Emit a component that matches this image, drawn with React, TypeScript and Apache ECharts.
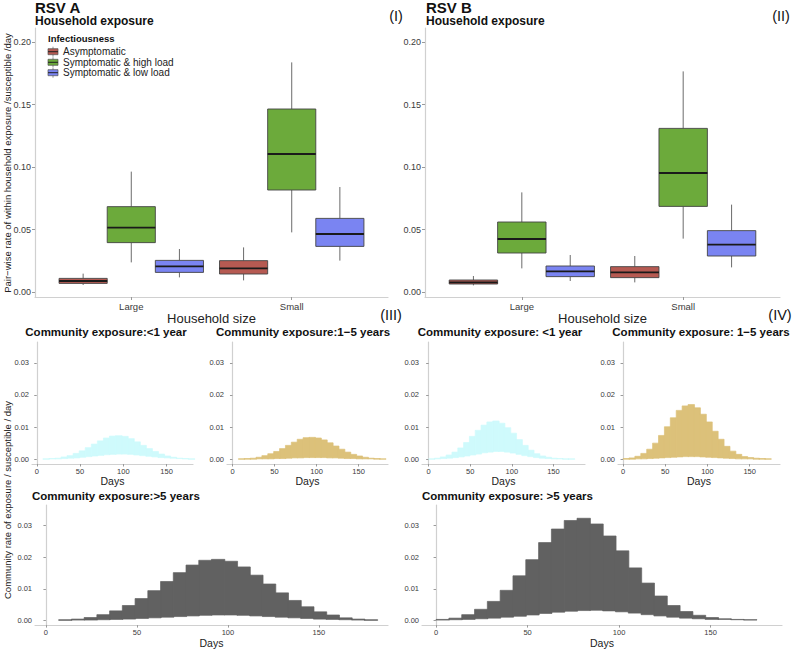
import React, { useEffect, useRef } from "react";
import * as echarts from "echarts";

const FONT = "'Liberation Sans', Arial, Helvetica, sans-serif";

// ---------- Household exposure (box plots) ----------
const boxCategories = ["Large", "Small"];
const infectiousness = ["Asymptomatic", "Symptomatic & high load", "Symptomatic & low load"];
const boxColors = ["#B65A52", "#6CAA3B", "#7A84F2"];
const boxTicks = [0, 0.05, 0.1, 0.15, 0.2];

// each row: [min, q1, median, q3, max] for Large, Small
const rsvA_asym = [[0.0056, 0.0069, 0.0088, 0.0109, 0.0147], [0.0093, 0.0144, 0.0189, 0.0251, 0.0357]];
const rsvA_high = [[0.0237, 0.0395, 0.0515, 0.0683, 0.0963], [0.0477, 0.0816, 0.1104, 0.1464, 0.1837]];
const rsvA_low = [[0.0117, 0.0157, 0.0205, 0.0253, 0.0344], [0.0251, 0.0365, 0.0464, 0.0589, 0.084]];
const rsvB_asym = [[0.0053, 0.0064, 0.0077, 0.0096, 0.0128], [0.0077, 0.0115, 0.0157, 0.0203, 0.0288]];
const rsvB_high = [[0.0189, 0.0312, 0.0424, 0.056, 0.0797], [0.0427, 0.0685, 0.0952, 0.1309, 0.1765]];
const rsvB_low = [[0.0088, 0.0123, 0.0165, 0.0208, 0.0296], [0.0197, 0.0288, 0.0379, 0.0491, 0.0699]];

// ---------- Community exposure (weekly ribbons) ----------
const dayTicks = [0, 50, 100, 150];
const commTicks = [0, 0.01, 0.02, 0.03];
const weekStartsA = [7, 14, 21, 28, 35, 42, 49, 56, 63, 70, 77, 84, 91, 98, 105, 112, 119, 126, 133, 140, 147, 154, 161, 168, 175];
const weekStartsB = [0, 7, 14, 21, 28, 35, 42, 49, 56, 63, 70, 77, 84, 91, 98, 105, 112, 119, 126, 133, 140, 147, 154, 161, 168];

const A_u1_upper = [0.0001, 0.0002, 0.0003, 0.0007, 0.0011, 0.0018, 0.0026, 0.0036, 0.0047, 0.0057, 0.0066, 0.0072, 0.0073, 0.0071, 0.0064, 0.0054, 0.0043, 0.0033, 0.0024, 0.0016, 0.001, 0.0006, 0.0003, 0.0002, 0.0001];
const A_u1_lower = [0, 0.0001, 0.0001, 0.0002, 0.0003, 0.0004, 0.0006, 0.0008, 0.001, 0.0012, 0.0014, 0.0015, 0.0016, 0.0016, 0.0015, 0.0013, 0.0011, 0.0009, 0.0007, 0.0005, 0.0004, 0.0003, 0.0002, 0.0001, 0];
const A_15_upper = [0.0001, 0.0002, 0.0003, 0.0006, 0.0011, 0.0017, 0.0024, 0.0033, 0.0043, 0.0053, 0.0062, 0.0067, 0.0068, 0.0066, 0.006, 0.0051, 0.0041, 0.0031, 0.0022, 0.0015, 0.001, 0.0006, 0.0003, 0.0002, 0.0001];
const A_15_lower = [0, 0, 0, 0.0001, 0.0001, 0.0001, 0.0002, 0.0002, 0.0003, 0.0004, 0.0004, 0.0005, 0.0005, 0.0005, 0.0005, 0.0004, 0.0004, 0.0003, 0.0002, 0.0002, 0.0001, 0.0001, 0.0001, 0, 0];
const A_5p_upper = [0.0002, 0.0004, 0.0009, 0.0018, 0.003, 0.0047, 0.0069, 0.0094, 0.0123, 0.0151, 0.0175, 0.019, 0.0193, 0.0187, 0.0169, 0.0143, 0.0115, 0.0087, 0.0063, 0.0043, 0.0027, 0.0017, 0.0008, 0.0004, 0.0002];
const A_5p_lower = [0, 0.0001, 0.0001, 0.0002, 0.0003, 0.0004, 0.0006, 0.0008, 0.001, 0.0012, 0.0014, 0.0016, 0.0017, 0.0017, 0.0016, 0.0014, 0.0012, 0.001, 0.0008, 0.0006, 0.0004, 0.0003, 0.0002, 0.0001, 0];

const B_u1_upper = [0.0001, 0.0003, 0.0007, 0.0013, 0.0022, 0.0035, 0.0052, 0.0071, 0.009, 0.0106, 0.0116, 0.0119, 0.0112, 0.0098, 0.0081, 0.0061, 0.0043, 0.0028, 0.0017, 0.001, 0.0006, 0.0003, 0.0002, 0.0001, 0.0001];
const B_u1_lower = [0, 0.0001, 0.0002, 0.0003, 0.0005, 0.0007, 0.001, 0.0013, 0.0016, 0.002, 0.0022, 0.0024, 0.0024, 0.0022, 0.0019, 0.0015, 0.0011, 0.0008, 0.0005, 0.0003, 0.0002, 0.0001, 0.0001, 0, 0];
const B_15_upper = [0.0002, 0.0004, 0.0009, 0.0018, 0.0031, 0.005, 0.0074, 0.0101, 0.0129, 0.0152, 0.0166, 0.017, 0.016, 0.014, 0.0116, 0.0087, 0.0062, 0.004, 0.0025, 0.0015, 0.0008, 0.0005, 0.0003, 0.0002, 0.0001];
const B_15_lower = [0, 0, 0.0001, 0.0001, 0.0002, 0.0003, 0.0004, 0.0005, 0.0006, 0.0007, 0.0008, 0.0008, 0.0008, 0.0007, 0.0006, 0.0005, 0.0004, 0.0003, 0.0002, 0.0001, 0.0001, 0.0001, 0, 0, 0];
const B_5p_upper = [0.0003, 0.0007, 0.0018, 0.0035, 0.006, 0.0095, 0.0141, 0.0192, 0.0246, 0.0289, 0.0316, 0.0323, 0.0305, 0.0267, 0.022, 0.0166, 0.0118, 0.0077, 0.0047, 0.0028, 0.0016, 0.0009, 0.0005, 0.0003, 0.0002];
const B_5p_lower = [0.0001, 0.0002, 0.0003, 0.0005, 0.0007, 0.001, 0.0013, 0.0017, 0.0022, 0.0026, 0.0029, 0.0031, 0.0032, 0.003, 0.0027, 0.0023, 0.0018, 0.0014, 0.001, 0.0007, 0.0005, 0.0003, 0.0003, 0.0002, 0.0001];

const cyan = "#CFFAFC";
const gold = "#DCC17A";
const dark = "#616161";
const axisGray = "#D0D0D0";
const textGray = "#3a3a3a";

function boxRows(rows: number[][]) {
  return rows.map((r, i) => [i + 1, ...r]);
}
function ribbonRows(starts: number[], lower: number[], upper: number[]) {
  return starts.map((s, i) => [s, s + 7, lower[i], upper[i]]);
}

function boxRender(offset: number, color: string) {
  return (params: any, api: any) => {
    const c = api.value(0) + offset;
    const mn = api.value(1), q1 = api.value(2), md = api.value(3), q3 = api.value(4), mx = api.value(5);
    const hw = 0.15;
    const tl = api.coord([c - hw, q3]);
    const br = api.coord([c + hw, q1]);
    const pMax = api.coord([c, mx]);
    const pMin = api.coord([c, mn]);
    const pMd = api.coord([c, md]);
    return {
      type: "group",
      children: [
        { type: "line", shape: { x1: pMax[0], y1: pMax[1], x2: pMax[0], y2: tl[1] }, style: { stroke: "#6b6b6b", lineWidth: 1 } },
        { type: "line", shape: { x1: pMin[0], y1: br[1], x2: pMin[0], y2: pMin[1] }, style: { stroke: "#6b6b6b", lineWidth: 1 } },
        { type: "rect", shape: { x: tl[0], y: tl[1], width: br[0] - tl[0], height: br[1] - tl[1] }, style: { fill: color, stroke: "#444", lineWidth: 0.9 } },
        { type: "line", shape: { x1: tl[0], y1: pMd[1], x2: br[0], y2: pMd[1] }, style: { stroke: "#1a1a1a", lineWidth: 1.8 } },
      ],
    };
  };
}

function ribbonRender(color: string) {
  return (params: any, api: any) => {
    const p1 = api.coord([api.value(0), api.value(3)]);
    const p2 = api.coord([api.value(1), api.value(2)]);
    return {
      type: "rect",
      shape: { x: p1[0], y: p1[1], width: p2[0] - p1[0] + 0.6, height: Math.max(0.3, p2[1] - p1[1]) },
      style: { fill: color, stroke: color, lineWidth: 0.7 },
    };
  };
}

const gridBase = { show: false };

function boxYAxis(gridIndex: number) {
  return {
    type: "value", gridIndex, min: -0.004, max: 0.2112,
    splitLine: { show: false },
    axisLine: { show: true, lineStyle: { color: axisGray, width: 1.2 } },
    axisTick: { show: true, customValues: boxTicks, length: 3, lineStyle: { color: "#9a9a9a" } },
    axisLabel: { customValues: boxTicks, formatter: (v: number) => v.toFixed(2), fontSize: 9, color: textGray, fontFamily: FONT, margin: 4 },
  };
}
function boxXAxis(gridIndex: number) {
  return {
    type: "value", gridIndex, min: 0.4, max: 2.6,
    splitLine: { show: false },
    axisLine: { show: true, onZero: false, lineStyle: { color: axisGray, width: 1.2 } },
    axisTick: { show: true, customValues: [1, 2], length: 3, lineStyle: { color: "#9a9a9a" } },
    axisLabel: { customValues: [1, 2], formatter: (v: number) => boxCategories[Math.round(v) - 1], fontSize: 9.5, color: textGray, fontFamily: FONT, margin: 4 },
    name: "Household size", nameLocation: "middle", nameGap: 10,
    nameTextStyle: { fontSize: 13, color: "#222", fontFamily: FONT },
  };
}
function commYAxis(gridIndex: number) {
  return {
    type: "value", gridIndex, min: -0.0015, max: 0.0365,
    splitLine: { show: false },
    axisLine: { show: true, lineStyle: { color: axisGray, width: 1.2 } },
    axisTick: { show: true, customValues: commTicks, length: 2.5, lineStyle: { color: "#9a9a9a" } },
    axisLabel: { customValues: commTicks, formatter: (v: number) => v.toFixed(2), fontSize: 7.5, color: textGray, fontFamily: FONT, margin: 3 },
  };
}
function commXAxis(gridIndex: number, min: number, max: number, gap: number) {
  return {
    type: "value", gridIndex, min, max,
    splitLine: { show: false },
    axisLine: { show: true, onZero: false, lineStyle: { color: axisGray, width: 1.2 } },
    axisTick: { show: true, customValues: dayTicks, length: 2.5, lineStyle: { color: "#9a9a9a" } },
    axisLabel: { customValues: dayTicks, fontSize: 7.5, color: textGray, fontFamily: FONT, margin: 3 },
    name: "Days", nameLocation: "middle", nameGap: gap,
    nameTextStyle: { fontSize: 10.5, color: "#222", fontFamily: FONT },
  };
}

function txt(text: string, x: number, y: number, size: number, opts: any = {}) {
  return {
    type: "text", x, y, rotation: opts.rotation || 0,
    style: {
      text, fontSize: size, fontFamily: FONT, fontWeight: opts.bold ? "bold" : "normal",
      fill: opts.color || "#111", textAlign: opts.align || "left", textVerticalAlign: "middle",
    },
  };
}

export default function App() {
  const ref = useRef<HTMLDivElement>(null);
  useEffect(() => {
    if (!ref.current) return;
    const chart = echarts.init(ref.current, undefined, { renderer: "svg" });

    const grids = [
      { left: 35, top: 28, width: 353, height: 269 },
      { left: 425, top: 28, width: 355, height: 269 },
      { left: 32, top: 342, width: 161, height: 122 },
      { left: 227, top: 342, width: 161, height: 122 },
      { left: 35, top: 505, width: 353, height: 122 },
      { left: 422, top: 342, width: 163, height: 122 },
      { left: 618, top: 342, width: 162, height: 122 },
      { left: 422, top: 505, width: 360, height: 122 },
    ].map((g) => ({ ...gridBase, ...g }));

    const xAxis = [
      boxXAxis(0), boxXAxis(1),
      commXAxis(2, -5.5, 180.5, 9), commXAxis(3, -6.5, 185, 9), commXAxis(4, -6, 188, 10),
      commXAxis(5, -8, 188, 9), commXAxis(6, -6, 186, 9), commXAxis(7, -7.7, 189, 10),
    ];
    const yAxis = [
      boxYAxis(0), boxYAxis(1),
      commYAxis(2), commYAxis(3), commYAxis(4), commYAxis(5), commYAxis(6), commYAxis(7),
    ];

    const boxSets = [
      [rsvA_asym, rsvA_high, rsvA_low],
      [rsvB_asym, rsvB_high, rsvB_low],
    ];
    const offsets = [-0.3, 0, 0.3];
    const series: any[] = [];
    boxSets.forEach((set, gi) => {
      set.forEach((rows, si) => {
        series.push({
          type: "custom", name: infectiousness[si], xAxisIndex: gi, yAxisIndex: gi,
          renderItem: boxRender(offsets[si], boxColors[si]),
          encode: { x: 0, y: [1, 2, 3, 4, 5] },
          data: boxRows(rows),
        });
      });
    });
    const ribbons = [
      [2, weekStartsA, A_u1_lower, A_u1_upper, cyan],
      [3, weekStartsA, A_15_lower, A_15_upper, gold],
      [4, weekStartsA, A_5p_lower, A_5p_upper, dark],
      [5, weekStartsB, B_u1_lower, B_u1_upper, cyan],
      [6, weekStartsB, B_15_lower, B_15_upper, gold],
      [7, weekStartsB, B_5p_lower, B_5p_upper, dark],
    ] as any[];
    ribbons.forEach(([gi, starts, lo, up, color]) => {
      series.push({
        type: "custom", xAxisIndex: gi, yAxisIndex: gi,
        renderItem: ribbonRender(color),
        encode: { x: [0, 1], y: [2, 3] },
        data: ribbonRows(starts, lo, up),
      });
    });

    const legendItems: any[] = [txt("Infectiousness", 48, 38, 9.5, { bold: true })];
    infectiousness.forEach((name, i) => {
      const cy = [51.7, 62.3, 72.7][i];
      legendItems.push({ type: "line", shape: { x1: 53, y1: cy - 5, x2: 53, y2: cy + 5 }, style: { stroke: "#777", lineWidth: 0.8 } });
      legendItems.push({ type: "rect", shape: { x: 48, y: cy - 3, width: 10, height: 6 }, style: { fill: boxColors[i], stroke: "#555", lineWidth: 0.7 } });
      legendItems.push({ type: "line", shape: { x1: 48, y1: cy, x2: 58, y2: cy }, style: { stroke: "#222", lineWidth: 1 } });
      legendItems.push(txt(name, 63, cy, 10, { color: "#222" }));
    });

    const graphic = [
      txt("RSV A", 35, 7, 15, { bold: true }),
      txt("Household exposure", 35, 21, 12, { bold: true }),
      txt("RSV B", 426, 7, 15, { bold: true }),
      txt("Household exposure", 426, 21, 12, { bold: true }),
      txt("(I)", 396, 16, 14.5, { align: "center" }),
      txt("(II)", 781, 16, 14.5, { align: "center" }),
      txt("(III)", 391, 315, 14.5, { align: "center" }),
      txt("(IV)", 780, 315, 14.5, { align: "center" }),
      txt("Pair−wise rate of within household exposure /susceptible /day", 7, 163, 9.5, { rotation: Math.PI / 2, align: "center", color: "#222" }),
      txt("Community rate of exposure / susceptible / day", 7, 500, 9.5, { rotation: Math.PI / 2, align: "center", color: "#222" }),
      txt("Community exposure:<1 year", 106, 332, 11.5, { bold: true, align: "center" }),
      txt("Community exposure:1−5 years", 303, 332, 11.5, { bold: true, align: "center" }),
      txt("Community exposure:>5 years", 32, 496, 11.5, { bold: true }),
      txt("Community exposure: <1 year", 500, 332, 11.5, { bold: true, align: "center" }),
      txt("Community exposure: 1−5 years", 701, 332, 11.5, { bold: true, align: "center" }),
      txt("Community exposure: >5 years", 422, 496, 11.5, { bold: true }),
      ...legendItems,
    ];

    chart.setOption({
      animation: false,
      backgroundColor: "#ffffff",
      textStyle: { fontFamily: FONT },
      grid: grids,
      xAxis,
      yAxis,
      series,
      graphic,
    });
    return () => chart.dispose();
  }, []);
  return <div ref={ref} style={{ position: "fixed", left: 0, top: 0, width: 793, height: 649, background: "#fff" }} />;
}
